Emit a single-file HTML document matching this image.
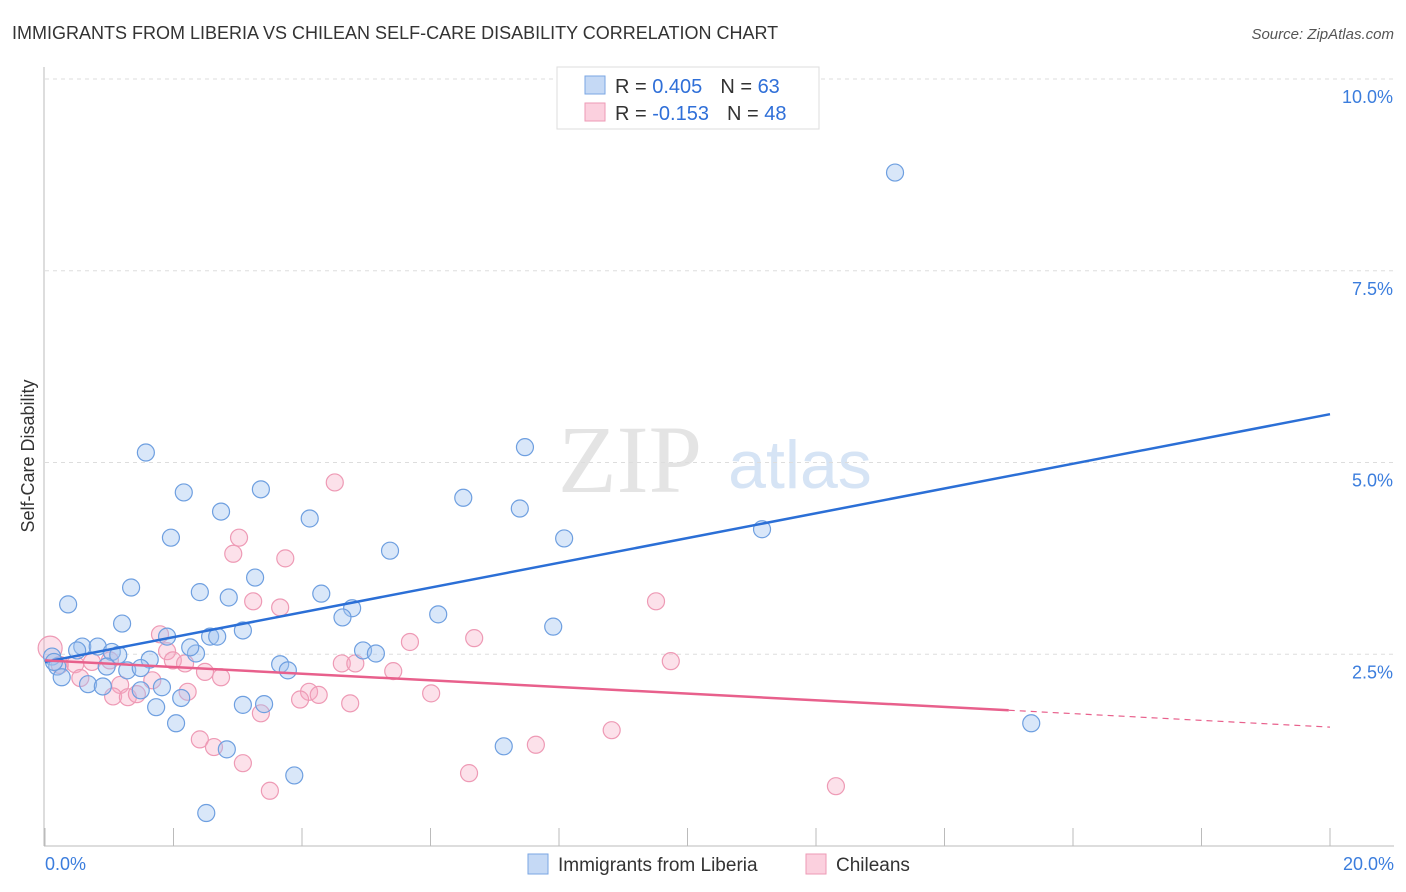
<!DOCTYPE html>
<html><head><meta charset="utf-8"><style>
body{margin:0;background:#fff;font-family:"Liberation Sans",sans-serif}
#wrap{position:relative;width:1406px;height:892px;overflow:hidden}
</style></head><body>
<div id="wrap">
<svg id="chart" width="1406" height="892">
<text x="12" y="39" font-size="18" fill="#333">IMMIGRANTS FROM LIBERIA VS CHILEAN SELF-CARE DISABILITY CORRELATION CHART</text>
<text x="1394" y="39" font-size="15" fill="#555" font-style="italic" text-anchor="end">Source: ZipAtlas.com</text>
<text x="630" y="492" font-size="96" fill="#e4e4e4" font-family="Liberation Serif,serif" text-anchor="middle">ZIP</text>
<text x="800" y="488" font-size="68" fill="#d6e4f5" text-anchor="middle">atlas</text>
<text transform="translate(34,456) rotate(-90)" font-size="18" fill="#333" text-anchor="middle">Self-Care Disability</text>
<g id="grid"></g><g id="pts"></g><g id="trend"></g>
<g>
<rect x="557" y="67" width="262" height="62" fill="#fff" stroke="#ddd"/>
<rect x="585" y="76" width="20" height="18" fill="#c5d9f5" stroke="#7aa6e3"/>
<rect x="585" y="103" width="20" height="18" fill="#fbd0de" stroke="#ee9ab5"/>
<text x="615" y="93" font-size="20" fill="#333">R = <tspan fill="#2f6fd8">0.405</tspan><tspan dx="18">N = </tspan><tspan fill="#2f6fd8">63</tspan></text>
<text x="615" y="120" font-size="20" fill="#333">R = <tspan fill="#2f6fd8">-0.153</tspan><tspan dx="18">N = </tspan><tspan fill="#2f6fd8">48</tspan></text>
</g>
<g>
<rect x="528" y="854" width="20" height="20" fill="#c5d9f5" stroke="#7aa6e3"/>
<text x="558" y="871" font-size="19" fill="#333">Immigrants from Liberia</text>
<rect x="806" y="854" width="20" height="20" fill="#fbd0de" stroke="#ee9ab5"/>
<text x="836" y="871" font-size="19" fill="#333">Chileans</text>
</g>
</svg></div>
<script>
const yTicks=[2.5,5.0,7.5,10.0];
const xTickCount=10;
const blueX=[13.23,7.47,1.57,2.16,3.36,6.51,2.74,4.12,7.39,1.96,5.37,8.08,11.16,1.34,3.27,0.36,2.41,2.86,4.30,4.78,4.63,6.12,1.20,7.91,3.08,1.90,2.57,2.68,0.58,0.82,0.50,1.04,1.14,2.35,2.26,4.95,5.15,0.11,1.63,3.66,3.78,0.19,0.96,1.28,1.49,0.26,0.67,0.90,1.82,1.49,2.12,1.73,3.08,3.41,2.04,2.83,7.14,3.88,2.51,15.35,0.14];
const blueY=[8.78,5.20,5.13,4.61,4.65,4.54,4.36,4.27,4.40,4.02,3.85,4.01,4.13,3.37,3.50,3.15,3.31,3.24,3.29,3.10,2.98,3.02,2.90,2.86,2.81,2.73,2.73,2.73,2.60,2.60,2.55,2.53,2.49,2.51,2.59,2.55,2.51,2.47,2.43,2.37,2.29,2.34,2.34,2.29,2.32,2.20,2.11,2.08,2.07,2.03,1.93,1.81,1.84,1.85,1.60,1.26,1.30,0.92,0.43,1.60,2.40];
const pinkX=[4.51,3.02,2.93,3.74,3.24,3.66,9.51,1.79,5.68,6.68,1.90,1.99,2.18,9.74,4.62,4.83,5.42,2.49,2.74,0.08,0.23,0.47,0.73,0.55,1.01,1.17,1.67,1.06,1.29,1.43,2.22,4.11,4.26,3.97,6.01,4.75,3.36,8.82,2.41,2.63,7.64,3.08,6.60,3.50,12.31];
const pinkY=[4.74,4.02,3.81,3.75,3.19,3.11,3.19,2.76,2.66,2.71,2.54,2.42,2.38,2.41,2.38,2.38,2.28,2.27,2.20,2.58,2.36,2.37,2.40,2.19,2.42,2.10,2.16,1.95,1.94,1.98,2.01,2.01,1.97,1.91,1.99,1.86,1.73,1.51,1.39,1.29,1.32,1.08,0.95,0.72,0.78];
const blueTrend=[2.40,5.63];
const pinkTrend=[2.42,1.77,1.55];
const pinkSolidEnd=15.0;

const NS='http://www.w3.org/2000/svg';
const X0=45,X1=1330,Y0=846,Y10=79;
function sx(v){return X0+(v/20)*(X1-X0);}
function sy(v){return Y0-(v/10)*(Y0-Y10);}
function mk(tag,attrs,parent){const e=document.createElementNS(NS,tag);for(const k in attrs)e.setAttribute(k,attrs[k]);parent.appendChild(e);return e;}
const grid=document.getElementById('grid');
for(const t of yTicks){
 const l=mk('line',{x1:45,x2:1394,y1:sy(t),y2:sy(t),stroke:'#ddd','stroke-dasharray':'4,4'},grid);
 
 
 const tx=mk('text',{x:1393,y:sy(t)+24,'font-size':18,fill:'#3b7ddd','text-anchor':'end'},grid);
 tx.textContent=t.toFixed(1)+'%';
 
 
}
const ax=mk('line',{x1:44,x2:44,y1:67,y2:846,stroke:'#bbb'},grid);


const bx=mk('line',{x1:44,x2:1394,y1:846,y2:846,stroke:'#bbb'},grid);


for(let i=0;i<=xTickCount;i++){
 const x=sx(i*20/xTickCount);
 const t=mk('line',{x1:x,x2:x,y1:828,y2:846,stroke:'#bbb'},grid);
 
 
}
const xl0=mk('text',{x:45,y:870,'font-size':18,fill:'#3b7ddd'},grid);xl0.textContent='0.0%';


const xl1=mk('text',{x:1394,y:870,'font-size':18,fill:'#3b7ddd','text-anchor':'end'},grid);xl1.textContent='20.0%';


const pts=document.getElementById('pts');
pinkX.forEach((x,i)=>{const c=mk('circle',{cx:sx(x),cy:sy(pinkY[i]),r:i==19?12:8.5,fill:'rgba(246,170,195,0.35)',stroke:'#ee9ab5','stroke-width':1.2},pts);
 
 });
blueX.forEach((x,i)=>{const c=mk('circle',{cx:sx(x),cy:sy(blueY[i]),r:8.5,fill:'rgba(160,195,240,0.4)',stroke:'#6e9fe0','stroke-width':1.2},pts);
 
 });
const tr=document.getElementById('trend');
const bl=mk('line',{x1:sx(0),y1:sy(blueTrend[0]),x2:sx(20),y2:sy(blueTrend[1]),stroke:'#2b6fd6','stroke-width':2.5},tr);


const pl=mk('line',{x1:sx(0),y1:sy(pinkTrend[0]),x2:sx(pinkSolidEnd),y2:sy(pinkTrend[1]),stroke:'#e8608c','stroke-width':2.5},tr);


const pd=mk('line',{x1:sx(pinkSolidEnd),y1:sy(pinkTrend[1]),x2:sx(20),y2:sy(pinkTrend[2]),stroke:'#e8608c','stroke-width':1.2,'stroke-dasharray':'6,5'},tr);


</script>
</body></html>
